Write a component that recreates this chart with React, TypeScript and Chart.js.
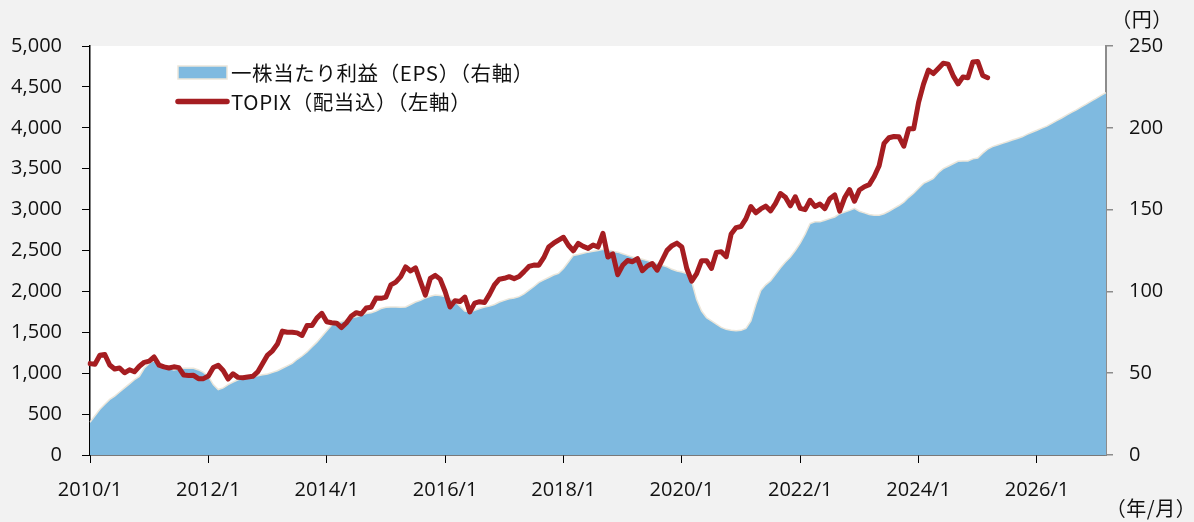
import React, { useEffect, useRef } from "react";
import { Chart, registerables } from "chart.js";

Chart.register(...registerables);

// Months from 2010/1 to 2027/3 (category axis)
const START_YEAR = 2010;
const MONTH_COUNT = 207;
const months: string[] = [];
for (let i = 0; i < MONTH_COUNT; i++) {
  months.push(`${START_YEAR + Math.floor(i / 12)}/${(i % 12) + 1}`);
}
const tickEvery = 24; // a labelled tick every two years

// TOPIX (dividends included), monthly, left axis
const topix: number[] = [
  1117, 1109, 1219, 1229, 1100, 1051, 1063, 1005, 1042, 1017, 1085, 1133,
  1147, 1198, 1099, 1077, 1064, 1078, 1068, 978, 972, 974, 933, 933,
  966, 1069, 1097, 1033, 928, 993, 949, 944, 954, 962, 1015, 1118,
  1222, 1274, 1356, 1515, 1500, 1500, 1493, 1461, 1582, 1582, 1673, 1732,
  1629, 1617, 1612, 1558, 1617, 1699, 1740, 1724, 1797, 1806, 1918, 1915,
  1931, 2079, 2114, 2181, 2300, 2249, 2289, 2121, 1954, 2158, 2196, 2150,
  1999, 1809, 1886, 1876, 1931, 1749, 1857, 1874, 1864, 1964, 2079, 2149,
  2160, 2180, 2156, 2182, 2242, 2305, 2322, 2320, 2412, 2543, 2589, 2627,
  2662, 2564, 2497, 2586, 2551, 2526, 2568, 2542, 2710, 2420, 2459, 2204,
  2319, 2378, 2363, 2401, 2253, 2311, 2340, 2259, 2381, 2501, 2559, 2590,
  2543, 2280, 2125, 2218, 2376, 2376, 2281, 2477, 2486, 2424, 2701, 2780,
  2793, 2889, 3038, 2961, 3008, 3042, 2985, 3077, 3197, 3152, 3046, 3157,
  3015, 2999, 3114, 3038, 3069, 3012, 3133, 3180, 2982, 3144, 3245, 3103,
  3239, 3280, 3305, 3404, 3537, 3810, 3878, 3894, 3891, 3775, 3988, 3987,
  4311, 4534, 4706, 4663, 4726, 4789, 4778, 4638, 4536, 4622, 4611, 4804,
  4811, 4640, 4612,
];

// EPS (yen), monthly, right axis
const eps: number[] = [
  20, 24, 28, 31, 34, 36, 38.5, 41, 43.5, 46, 48, 53,
  56, 58, 56, 54, 53, 52, 52.5, 53, 53, 53, 52, 50.5,
  48, 43, 40, 41, 43, 44.5, 46, 47, 47.5, 48, 48.5, 49,
  49.5, 50.5, 51.5, 53, 54.5, 56, 58.5, 60.5, 63, 66, 69, 72.5,
  76, 79.5, 81, 81.5, 82.5, 84, 84.5, 85.5, 86.5, 87, 88, 89.5,
  90.3, 90.5, 90.5, 90.3, 90.5, 92, 93.5, 94.5, 96, 97, 97.8, 97.5,
  96.8, 95.5, 94, 91, 88, 87.5, 88.5, 89.5, 90.5, 91, 92, 93.5,
  94.5, 95.5, 96, 96.8, 98.5, 100.8, 103, 105.5, 107, 108.5, 110, 111,
  114, 118, 122, 122.5, 123.3, 124, 124.5, 125, 125.7, 125.3, 124.5, 124,
  123, 122, 121, 120.3, 119.6, 118.8, 118, 117, 116, 115, 113.5, 112.5,
  111.8, 111, 106, 95, 88, 84, 82, 80, 78, 76.8, 76.2, 76,
  76.2, 77.4, 82, 92, 100.5, 104, 106.5, 110.5, 114.5, 118, 121, 125,
  129.5, 135, 141.5, 142.5, 142.5, 143.5, 144.5, 145.5, 147.5, 148.5, 149.5, 150.8,
  149, 148, 147, 146.5, 146.5, 147.5, 149, 150.8, 152.5, 154.5, 157.5, 160,
  163, 166, 167.5, 169, 172.5, 175, 176.5, 178, 179.5, 179.7, 179.7, 181,
  181.5, 184.5, 187, 188.5, 189.5, 190.5, 191.5, 192.5, 193.5, 194.5, 196, 197.3,
  198.5, 199.8, 201, 202.7, 204.4, 206, 207.8, 209.4, 211, 212.8, 214.5, 216.3,
  218, 219.8, 221.5,
];

const legendLabels = ["一株当たり利益（EPS）（右軸）", "TOPIX（配当込）（左軸）"];
const leftUnit = "（円）";
const xUnit = "（年/月）";

const EPS_FILL = "#7fbae0";
const EPS_EDGE = "#ebe6da";
const TOPIX_COLOR = "#a51d21";
const TICK_FONT = { family: "'Open Sans', sans-serif", size: 20 };
const CJK_FONT = "'Noto Sans CJK JP', sans-serif";

const decorPlugin = {
  id: "decor",
  beforeDraw(chart: any) {
    const { ctx, chartArea } = chart;
    ctx.save();
    ctx.fillStyle = "#f2f2f2";
    ctx.fillRect(0, 0, chart.width, chart.height);
    ctx.fillStyle = "#ffffff";
    ctx.fillRect(chartArea.left, chartArea.top, chartArea.right - chartArea.left, chartArea.bottom - chartArea.top);
    ctx.restore();
  },
  afterDraw(chart: any) {
    const { ctx } = chart;
    ctx.save();
    ctx.font = `20.5px ${CJK_FONT}`;
    try { (ctx as any).letterSpacing = "0.6px"; } catch (e) {}
    ctx.textBaseline = "middle";
    // legend item 1: area swatch
    ctx.fillStyle = EPS_FILL;
    ctx.fillRect(178, 66, 49, 13);
    ctx.strokeStyle = EPS_EDGE;
    ctx.lineWidth = 1.5;
    ctx.strokeRect(178, 66, 49, 13);
    ctx.fillStyle = "#111";
    ctx.textAlign = "left";
    ctx.fillText(legendLabels[0], 231, 73);
    // legend item 2: line swatch
    ctx.strokeStyle = TOPIX_COLOR;
    ctx.lineWidth = 5.5;
    ctx.lineCap = "round";
    ctx.beginPath();
    ctx.moveTo(178, 101.5);
    ctx.lineTo(227, 101.5);
    ctx.stroke();
    ctx.fillText(legendLabels[1], 231, 102);
    // unit labels
    ctx.font = `20px ${CJK_FONT}`;
    try { (ctx as any).letterSpacing = "0.5px"; } catch (e) {}
    ctx.textAlign = "center";
    ctx.fillText(leftUnit, 1142, 19);
    ctx.fillText(xUnit, 1151, 508);
    ctx.restore();
  },
};

export default function App() {
  const ref = useRef<HTMLCanvasElement>(null);

  useEffect(() => {
    const canvas = ref.current;
    if (!canvas) return;
    const chart = new Chart(canvas, {
      type: "line",
      data: {
        labels: months,
        datasets: [
          {
            label: legendLabels[1],
            data: topix,
            yAxisID: "y",
            borderColor: TOPIX_COLOR,
            borderWidth: 5,
            borderJoinStyle: "round",
            borderCapStyle: "round",
            pointRadius: 0,
            fill: false,
            tension: 0,
            order: 0,
          },
          {
            label: legendLabels[0],
            data: eps,
            yAxisID: "y1",
            borderColor: EPS_EDGE,
            borderWidth: 1.5,
            backgroundColor: EPS_FILL,
            pointRadius: 0,
            fill: "origin",
            tension: 0,
            order: 1,
          },
        ],
      },
      options: {
        responsive: false,
        animation: false,
        events: [],
        layout: { padding: { top: 46, left: 0, right: 0, bottom: 0 } },
        plugins: { legend: { display: false }, tooltip: { enabled: false } },
        scales: {
          x: {
            type: "category",
            offset: false,
            afterFit: (s: any) => { s.height = 67; },
            grid: {
              drawOnChartArea: false,
              drawTicks: true,
              tickLength: 8,
              color: "#000",
              lineWidth: 1,
            },
            border: { display: true, color: "#000", width: 1.5 },
            ticks: {
              autoSkip: false,
              maxRotation: 0,
              minRotation: 0,
              padding: 15,
              color: "#111",
              font: TICK_FONT,
              callback: (_v: any, i: number) => (i % tickEvery === 0 ? months[i] : null),
            },
          },
          y: {
            position: "left",
            min: 0,
            max: 5000,
            afterFit: (s: any) => { s.width = 90; },
            grid: { drawOnChartArea: false, tickLength: 8, color: "#000" },
            border: { display: true, color: "#000", width: 1.5 },
            ticks: {
              stepSize: 500,
              padding: 20,
              color: "#111",
              font: TICK_FONT,
              callback: (v: any) => Number(v).toLocaleString("en-US"),
            },
          },
          y1: {
            position: "right",
            min: 0,
            max: 250,
            z: 1,
            afterFit: (s: any) => { s.width = 88; },
            grid: { drawOnChartArea: false, tickLength: 7, color: "#8c8c8c", lineWidth: 1.5 },
            border: { display: true, color: "#8c8c8c", width: 2 },
            ticks: {
              stepSize: 50,
              padding: 16,
              color: "#111",
              font: TICK_FONT,
            },
          },
        },
      },
      plugins: [decorPlugin],
    });
    return () => chart.destroy();
  }, []);

  return (
    <div style={{ position: "fixed", left: 0, top: 0, width: 1194, height: 522, background: "#f2f2f2" }}>
      <canvas ref={ref} width={1194} height={522} style={{ display: "block", width: 1194, height: 522 }} />
    </div>
  );
}
